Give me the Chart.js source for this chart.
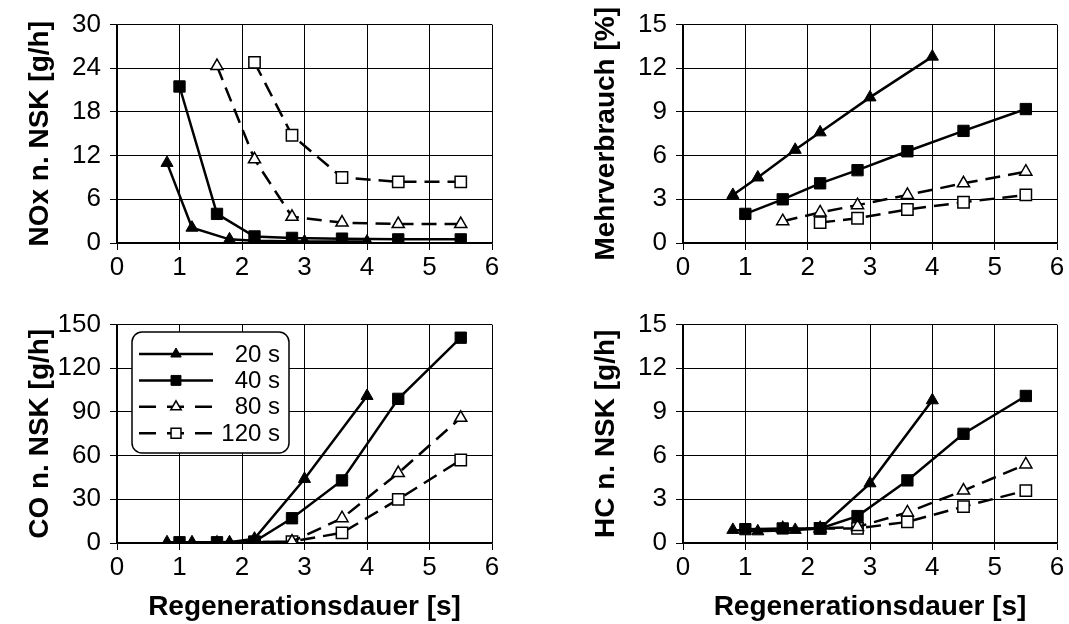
<!DOCTYPE html>
<html>
<head>
<meta charset="utf-8">
<script src="https://cdn.jsdelivr.net/npm/chart.js@4.4.1/dist/chart.umd.min.js"></script>
<style>
  body { margin: 0; background: #fff; }
  #wrap { position: relative; width: 1069px; height: 624px; }
  canvas { position: absolute; }
</style>
</head>
<body>
<div id="wrap">
  <canvas id="c1" width="566" height="300" style="left:0;top:0"></canvas>
  <canvas id="c2" width="503" height="300" style="left:566px;top:0"></canvas>
  <canvas id="c3" width="566" height="324" style="left:0;top:300px"></canvas>
  <canvas id="c4" width="503" height="324" style="left:566px;top:300px"></canvas>
</div>
<script>
// Regenerationsdauer [s] per Serie
const seriesNames = ['20 s', '40 s', '80 s', '120 s'];
const x20 = [0.8, 1.2, 1.8, 2.2, 3.0, 4.0];
const x40 = [1.0, 1.6, 2.2, 2.8, 3.6, 4.5, 5.5];
const x80 = [1.6, 2.2, 2.8, 3.6, 4.5, 5.5];
const x120 = [2.2, 2.8, 3.6, 4.5, 5.5];
const xTicks = [0, 1, 2, 3, 4, 5, 6];

// NOx n. NSK [g/h]
const nox20 = [11.0, 2.1, 0.5, 0.3, 0.2, 0.2];
const nox40 = [21.5, 4.0, 0.9, 0.7, 0.6, 0.5, 0.5];
const nox80 = [24.3, 11.5, 3.6, 2.8, 2.6, 2.6];
const nox120 = [24.8, 14.8, 9.0, 8.4, 8.4];

// Mehrverbrauch [%]
const mv20 = [3.3, 4.5, 6.4, 7.6, 10.0, 12.8];
const mv40 = [2.0, 3.0, 4.1, 5.0, 6.3, 7.7, 9.2];
const mv80 = [1.5, 2.1, 2.6, 3.3, 4.1, 4.9];
const mv120 = [1.4, 1.7, 2.3, 2.8, 3.3];

// CO n. NSK [g/h]
const co20 = [0.5, 0.5, 0.5, 3, 44, 101];
const co40 = [0.5, 0.5, 1, 17, 43, 99, 141];
const co80 = [0, 0.5, 1, 17, 48, 86];
const co120 = [0.5, 1, 7, 30, 57];

// HC n. NSK [g/h]
const hc20 = [0.9, 0.8, 0.9, 1.0, 4.1, 9.8];
const hc40 = [0.95, 1.0, 1.0, 1.85, 4.3, 7.5, 10.1];
const hc80 = [1.0, 1.0, 1.1, 2.1, 3.6, 5.4];
const hc120 = [1.0, 1.0, 1.45, 2.5, 3.6];

const FONT = "'Liberation Sans', Arial, sans-serif";
const DASH = [15, 8];

function pts(xs, ys) {
  return xs.map((x, i) => ({ x: x, y: ys[i] }));
}

function makeSets(a, b, c, d) {
  return [
    { label: seriesNames[0], data: pts(x20, a), borderColor: '#000', borderWidth: 2.5,
      pointStyle: 'triangle', pointRadius: 7, pointBackgroundColor: '#000', pointBorderColor: '#000', pointBorderWidth: 1 },
    { label: seriesNames[1], data: pts(x40, b), borderColor: '#000', borderWidth: 2.5,
      pointStyle: 'rect', pointRadius: 8, pointBackgroundColor: '#000', pointBorderColor: '#000', pointBorderWidth: 1 },
    { label: seriesNames[2], data: pts(x80, c), borderColor: '#000', borderWidth: 2.5, borderDash: DASH,
      pointStyle: 'triangle', pointRadius: 7, pointBackgroundColor: '#fff', pointBorderColor: '#000', pointBorderWidth: 1.5 },
    { label: seriesNames[3], data: pts(x120, d), borderColor: '#000', borderWidth: 2.5, borderDash: DASH,
      pointStyle: 'rect', pointRadius: 8, pointBackgroundColor: '#fff', pointBorderColor: '#000', pointBorderWidth: 1.5 }
  ];
}

// legend drawn as a rounded box inside the plot
const boxLegend = {
  id: 'boxLegend',
  afterDatasetsDraw(chart, args, opts) {
    if (!opts.show) return;
    const ctx = chart.ctx;
    const b = opts.box;
    ctx.save();
    ctx.beginPath();
    ctx.roundRect(b.x, b.y, b.w, b.h, 10);
    ctx.fillStyle = '#fff';
    ctx.fill();
    ctx.lineWidth = 1.5;
    ctx.strokeStyle = '#000';
    ctx.stroke();
    chart.data.datasets.forEach((ds, i) => {
      const y = b.y + 22 + i * 26.4;
      ctx.beginPath();
      ctx.setLineDash(ds.borderDash ? [17, 11] : []);
      ctx.lineWidth = ds.borderWidth;
      ctx.moveTo(b.x + 7, y);
      ctx.lineTo(b.x + 81, y);
      ctx.stroke();
      ctx.setLineDash([]);
      ctx.fillStyle = ds.pointBackgroundColor;
      ctx.strokeStyle = ds.pointBorderColor;
      ctx.lineWidth = ds.pointBorderWidth;
      Chart.helpers.drawPoint(ctx, { pointStyle: ds.pointStyle, radius: ds.pointRadius - 1, borderWidth: ds.pointBorderWidth }, b.x + 44, y);
      ctx.fillStyle = '#000';
      ctx.font = '24px ' + FONT;
      ctx.textAlign = 'right';
      ctx.textBaseline = 'middle';
      ctx.fillText(ds.label, b.x + 148, y + 1);
    });
    ctx.restore();
  }
};

function makeChart(id, sets, yMax, yStep, yTitle, showX, padRight, legend) {
  const h = document.getElementById(id).height;
  return new Chart(document.getElementById(id), {
    type: 'line',
    data: { datasets: sets },
    plugins: [boxLegend],
    options: {
      responsive: false,
      animation: false,
      devicePixelRatio: 1,
      layout: { padding: { top: 22, right: padRight, left: 0, bottom: 0 } },
      plugins: {
        legend: { display: false },
        tooltip: { enabled: false },
        boxLegend: { show: legend, box: { x: 132, y: 32, w: 157, h: 121 } }
      },
      scales: {
        x: {
          type: 'linear', min: 0, max: 6,
          afterBuildTicks: s => { s.ticks = xTicks.map(v => ({ value: v })); },
          afterFit: s => { s.height = h - 243; },
          grid: { color: '#000', lineWidth: 1, tickLength: 7 },
          border: { color: '#000', width: 1.5 },
          ticks: { color: '#000', font: { family: FONT, size: 26 }, padding: 2, maxRotation: 0 },
          title: { display: showX, text: 'Regenerationsdauer [s]', color: '#000',
                   font: { family: FONT, size: 28, weight: 'bold' }, padding: { top: 0, bottom: 0 } }
        },
        y: {
          min: 0, max: yMax,
          afterFit: s => { s.width = 117; },
          grid: { color: '#000', lineWidth: 1, tickLength: 7 },
          border: { color: '#000', width: 1.5 },
          ticks: { stepSize: yStep, color: '#000', font: { family: FONT, size: 26 }, padding: 9 },
          title: { display: true, text: yTitle, color: '#000',
                   font: { family: FONT, size: 28, weight: 'bold' }, padding: { top: 23, bottom: 0 } }
        }
      }
    }
  });
}

makeChart('c1', makeSets(nox20, nox40, nox80, nox120), 30, 6, 'NOx n. NSK [g/h]', false, 74, false);
makeChart('c2', makeSets(mv20, mv40, mv80, mv120), 15, 3, 'Mehrverbrauch [%]', false, 12, false);
makeChart('c3', makeSets(co20, co40, co80, co120), 150, 30, 'CO n. NSK [g/h]', true, 74, true);
makeChart('c4', makeSets(hc20, hc40, hc80, hc120), 15, 3, 'HC n. NSK [g/h]', true, 12, false);
</script>
</body>
</html>
